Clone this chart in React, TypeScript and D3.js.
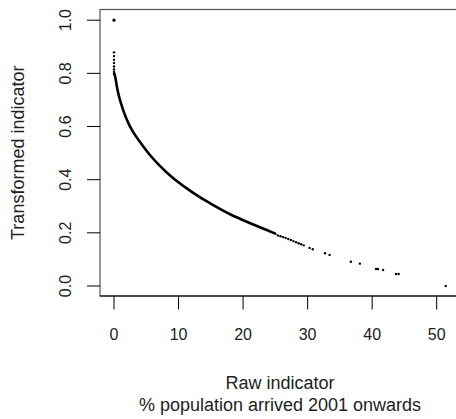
import React from 'react';
import * as d3 from 'd3';

// dense part of the curve
const curveX = [0.05, 0.2, 0.45, 0.71, 1.1, 1.49, 2.26, 3.0, 4.06, 5.6, 7.15, 8.96, 11.0, 13.3, 14.9, 18.0, 21.1, 24.2, 25.0];
const curveY = [0.8, 0.785, 0.75, 0.72, 0.686, 0.657, 0.611, 0.578, 0.541, 0.492, 0.451, 0.41, 0.372, 0.334, 0.311, 0.27, 0.236, 0.205, 0.197];

// isolated points
const pointX = [0, 0, 0, 0, 0, 0, 0, 0, 0,
  25.4, 25.8, 26.2, 26.6, 27.0, 27.4, 27.8, 28.2, 28.6, 29.0, 29.4, 30.3, 30.8,
  32.7, 33.4, 36.7, 38.1, 40.6, 40.9, 41.7, 43.7, 44.1, 51.4];
const pointY = [1.0, 0.879, 0.865, 0.851, 0.839, 0.826, 0.815, 0.806, 0.799,
  0.19, 0.187, 0.184, 0.181, 0.177, 0.173, 0.169, 0.165, 0.161, 0.157, 0.153, 0.143, 0.138,
  0.123, 0.117, 0.091, 0.084, 0.064, 0.064, 0.06, 0.045, 0.045, 0.0];

const xTicks = [0, 10, 20, 30, 40, 50];
const yTicks = [0, 0.2, 0.4, 0.6, 0.8, 1.0];

const xLabel1 = 'Raw indicator';
const xLabel2 = '% population arrived 2001 onwards';
const yLabel = 'Transformed indicator';

const W = 456;
const H = 419;
const box = { left: 100, top: 9.5, right: 460, bottom: 296 };
const font = '"Liberation Sans", Arial, Helvetica, sans-serif';

export default function App() {
  const x = d3.scaleLinear().domain([0, 50]).range([114, 436.7]);
  const y = d3.scaleLinear().domain([0, 1]).range([286, 20.2]);

  const line = d3.line<number>()
    .x((_, i) => x(curveX[i]))
    .y((d) => y(d))
    .curve(d3.curveMonotoneX);

  return (
    <svg width={W} height={H} style={{ position: 'absolute', left: 0, top: 0, background: '#fff' }}>
      {/* frame */}
      <rect x={box.left} y={box.top} width={box.right - box.left} height={box.bottom - box.top}
        fill="none" stroke="#555" strokeWidth={1.2} />
      <line x1={box.left} x2={W} y1={box.bottom} y2={box.bottom} stroke="#000" strokeWidth={1.2} />

      {/* y axis */}
      {yTicks.map((t) => (
        <g key={'y' + t}>
          <line x1={87} x2={box.left} y1={y(t)} y2={y(t)} stroke="#000" strokeWidth={1} />
          <text transform={`translate(71,${y(t)}) rotate(-90)`} textAnchor="middle"
            fontFamily={font} fontSize={16} fill="#222">{t.toFixed(1)}</text>
        </g>
      ))}

      {/* x axis */}
      {xTicks.map((t) => (
        <g key={'x' + t}>
          <line x1={x(t)} x2={x(t)} y1={box.bottom} y2={309.5} stroke="#000" strokeWidth={1} />
          <text x={x(t)} y={340} textAnchor="middle" fontFamily={font} fontSize={16} fill="#222">{t}</text>
        </g>
      ))}

      {/* data */}
      <path d={line(curveY) || ''} fill="none" stroke="#000" strokeWidth={2.6} strokeLinecap="round" />
      {pointX.map((px, i) => (
        <circle key={'p' + i} cx={x(px)} cy={y(pointY[i])} r={i === 0 ? 1.6 : 1.2} fill="#000" />
      ))}

      {/* labels */}
      <text x={280} y={389} textAnchor="middle" fontFamily={font} fontSize={18} fill="#222">{xLabel1}</text>
      <text x={280} y={411} textAnchor="middle" fontFamily={font} fontSize={18} fill="#222">{xLabel2}</text>
      <text transform={`translate(23.5,${(box.top + box.bottom) / 2}) rotate(-90)`} textAnchor="middle"
        fontFamily={font} fontSize={18} fill="#222">{yLabel}</text>
    </svg>
  );
}
